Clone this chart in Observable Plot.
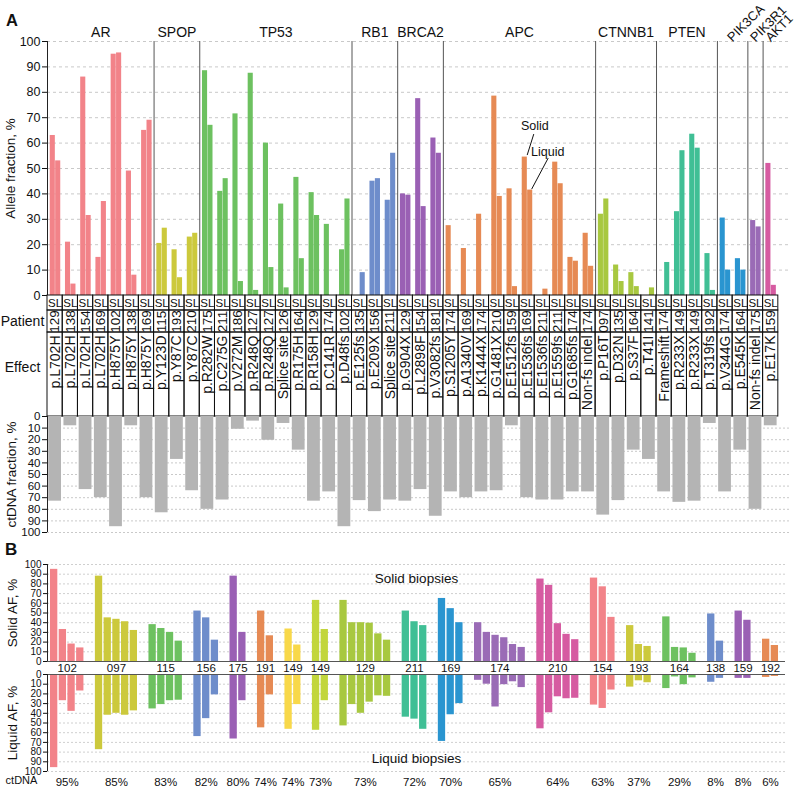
<!DOCTYPE html>
<html><head><meta charset="utf-8">
<script src="https://cdn.jsdelivr.net/npm/d3@7"></script>
<script src="https://cdn.jsdelivr.net/npm/@observablehq/plot@0.6"></script>
<style>
body{margin:0;background:#fff;font-family:"Liberation Sans",Arial,sans-serif;}
#wrap{position:relative;width:800px;height:788px;overflow:hidden;background:#fff;}
.plab{position:absolute;font-weight:bold;line-height:16px;color:#111;}
</style></head><body><div id="wrap"></div>
<script>
// ---------------- DATA (panel A) ----------------
const geneNames  = ["AR","SPOP","TP53","RB1","BRCA2","APC","CTNNB1","PTEN","PIK3CA","PIK3R1","AKT1"];
const geneCounts = [7,3,10,3,3,10,4,4,2,1,1];
const geneColors = ["#F28389","#CCC93C","#6DC160","#6E8DCB","#9A60B4","#E68A54","#A8C840","#40BF95","#2A95D0","#9A6BB6","#D65BA1"];
const rotatedGenes = ["PIK3CA","PIK3R1","AKT1"];
const patientIds = ["129","138","154","169","102","138","169","115","193","210","175","211","186","127","127","126","164","129","174","102","135","156","211","129","154","181","174","169","174","210","159","169","211","211","174","174","097","135","164","141","174","149","149","192","174","164","175","159"];
const effects = ["p.L702H","p.L702H","p.L702H","p.L702H","p.H875Y","p.H875Y","p.H875Y","p.Y123D","p.Y87C","p.Y87C","p.R282W","p.C275G","p.V272M","p.R248Q","p.R248Q","Splice site","p.R175H","p.R158H","p.C141R","p.D48fs","p.E125fs","p.E209X","Splice site","p.G904X","p.L2898F","p.V3082fs","p.S1205Y","p.A1340V","p.K1444X","p.G1481X","p.E1512fs","p.E1536fs","p.E1536fs","p.E1559fs","p.G1685fs","Non-fs indel","p.P16T","p.D32N","p.S37F","p.T41I","Frameshift","p.R233X","p.R233X","p.T319fs","p.V344G","p.E545K","Non-fs indel","p.E17K"];
const solidAF  = [63,21,86,15,95,49,65, 20.5,18,23, 88.5,41,71.5,87.5,60,36,46.5,40.5,28,18, 0,45,37.5, 40,77.5,62, 27.5,18.5,32,78.5,42,54.5,0,52.5,15,24.5, 32,12,9,0, 0,33,63.5,16.5, 30.5,14.5, 29.5, 52];
const liquidAF = [53,4.5,31.5,37,95.5,8,69, 26.5,7,24.5, 67,46,5.5,2,11,3,14.5,31.5,0,38, 9,46,56, 39.5,35,56, 0,0,0,39,3.5,41.5,2.5,44,13.5,11.5, 38,5.5,3.5,3, 13,57,58,2, 10,10, 27, 4];
const ctDNAfraction = [73,8,63,70,95,8,70, 83,37,64, 80,72,11,4,20.5,6,29,73,65,95, 72.5,82,72, 73,63,86, 65,70,65,64,8,70,72,72,65,65, 85,72.5,29,37, 65,74,73,6, 65,29, 80,8];
const afTicks = d3.range(0,101,10);
const annLabels = ["Solid","Liquid"];
const annCols = [31,31];
const annParts = ["S","L"];

// ---------------- DATA (panel B) ----------------
const bPatients = ["102","097","115","156","175","191","149","149","129","211","169","174","210","154","193","164","138","159","192"];
const bCtDNA = ["95%","85%","83%","82%","80%","74%","74%","73%","73%","72%","70%","65%","64%","63%","37%","29%","8%","8%","6%"];
const bColors = ["#F28389","#CCC93C","#6DC160","#6E8DCB","#9A60B4","#E68A54","#F8D84A","#C2D63C","#A8C840","#40BF95","#2A95D0","#9A6BB6","#D65BA1","#F28389","#CCC93C","#6DC160","#6E8DCB","#9A60B4","#E68A54"];
const bSolid = [[95,33,18,14],[88,45,43.5,41,32],[38,34,30,21],[52,45,22],[88,30],[52,26.5],[33.5,17],[63,33],[63,40,40,39.5,28.5,22],[52,41,37],[65,54.5,40],[40,30,27,24.5,17.5,14.5],[85,78.5,39,28,22.5],[86,77,45.5],[37,17.5,15.5],[46,14.5,14,8.5],[49,21],[52,42.5],[23,16.5]];
const bLiquid = [[96,27,38,17],[77.5,42,40,42,37.5],[35.5,31,27,26.5],[64,45.5,21],[66.5,27],[55,21],[56.5,31],[57.5,27],[53,31,40,28.5,22,22.5],[44,46,56.5],[69,41.5,30],[6,10,33.5,10.5,7.5,13.5],[56,39.5,23,25,24.5],[31.5,35,16],[13,6.5,8.5],[14.5,2.5,10.5,3.5],[8,4],[4,4],[3,2]];

// ---------------- LAYOUT / STYLE ----------------
const FONT = "Liberation Sans, Arial, Helvetica, sans-serif";
const W = 800;
const A = {ml:47, mr:10, xmax:48.8};
const svgStyle = {fontFamily: FONT, background:"transparent", overflow:"visible", color:"#111", position:"absolute", left:"0px"};
const pxX = (W - A.ml - A.mr) / A.xmax;
const pxY = 254 / 100;
const annStyle = [{tx:10, ty:-31, l1:[2.4,-2], l2:[9,-23]}, {tx:17.5, ty:-38, l1:[1.5,-1], l2:[18,-32]}];

const wrap = document.getElementById("wrap");
function place(el, top){ el.style.position="absolute"; el.style.top = top+"px"; el.style.left="0px"; wrap.appendChild(el); }
function label(txt, left, top, size){ const d=document.createElement("div"); d.className="plab"; d.textContent=txt; d.style.left=left+"px"; d.style.top=top+"px"; d.style.fontSize=size+"px"; wrap.appendChild(d); }
function title(txt, dx){ return Plot.text([txt], {frameAnchor:"left", textAnchor:"middle", rotate:-90, dx, fontSize:13.5, text:d=>d}); }

// ---------------- build rows ----------------
const geneOf = [];
geneCounts.forEach((c,g)=>{ for(let k=0;k<c;k++) geneOf.push(g); });
const cols = patientIds.map((p,i)=>({i, patient:p, effect:effects[i], color:geneColors[geneOf[i]], solid:solidAF[i], liquid:liquidAF[i], ct:ctDNAfraction[i]}));
const afBars = cols.flatMap(d=>[{i:d.i, part:"S", v:d.solid, color:d.color},{i:d.i, part:"L", v:d.liquid, color:d.color}]).filter(d=>d.v>0);
const barX1 = d => d.i + (d.part==="S" ? 0.18 : 0.535);
const barX2 = d => d.i + (d.part==="S" ? 0.515 : 0.87);
const bounds = d3.cumsum(geneCounts).slice(0,-1);
const geneLabels = geneNames.map((g,k)=>{ const end=d3.sum(geneCounts.slice(0,k+1)); const start=end-geneCounts[k]; return {name:g, cx:(start+end)/2}; });
const ann = annLabels.map((lab,k)=>{
  const c = cols[annCols[k]]; const part = annParts[k];
  const cx = (barX1({i:c.i,part}) + barX2({i:c.i,part}))/2;
  const v = part==="S" ? c.solid : c.liquid;
  const s = annStyle[k];
  return {lab, tx: cx + s.tx/pxX, ty: v - s.ty/pxY, x1: cx + s.l1[0]/pxX, y1: v - s.l1[1]/pxY, x2: cx + s.l2[0]/pxX, y2: v - s.l2[1]/pxY};
});

// ---------------- Panel A: allele fraction ----------------
place(Plot.plot({
  width:W, height:300, marginLeft:A.ml, marginRight:A.mr, marginTop:41, marginBottom:5,
  style: svgStyle,
  x:{domain:[0,A.xmax], axis:null},
  y:{domain:[0,100], label:null},
  color:{type:"identity"},
  marks:[
    Plot.ruleY(afTicks.filter(t=>t>0), {stroke:"#c9c9c9", strokeDasharray:"3,3"}),
    Plot.rect(afBars, {x1:barX1, x2:barX2, y1:0, y2:"v", fill:"color"}),
    Plot.ruleX(bounds, {y1:0, y2:100, stroke:"#555"}),
    Plot.ruleX([0], {y1:0, y2:100, stroke:"#222"}),
    Plot.axisY(afTicks, {tickSize:5, tickPadding:2, fontSize:12.5, label:null}),
    title("Allele fraction, %", -37),
    Plot.text(geneLabels.filter(d=>!rotatedGenes.includes(d.name)), {x:"cx", y:100, text:"name", dy:-9, fontSize:14}),
    Plot.text(geneLabels.filter(d=>rotatedGenes.includes(d.name)), {x:"cx", y:100, text:"name", rotate:-45, textAnchor:"start", dx:-3, dy:-2, fontSize:13}),
    Plot.link(ann, {x1:"x1", y1:"y1", x2:"x2", y2:"y2", stroke:"#111", strokeWidth:1}),
    Plot.text(ann, {x:"tx", y:"ty", text:"lab", fontSize:12.5})
  ]
}), 0);

// ---------------- Panel A: table rows ----------------
function tableRow(top, h, textMark, rowLabel, labelDy){
  const marks = [
    Plot.rect(cols, {x1:"i", x2:d=>d.i+1, y1:0, y2:1, stroke:"#111", fill:"none"}),
    textMark
  ];
  if (rowLabel) marks.push(Plot.text([rowLabel], {frameAnchor:"left", textAnchor:"middle", dx:-25, dy:labelDy, fontSize:14, text:d=>d}));
  place(Plot.plot({
    width:W, height:h, marginLeft:A.ml, marginRight:A.mr, marginTop:0, marginBottom:0,
    style: svgStyle, x:{domain:[0,A.xmax], axis:null}, y:{domain:[0,1], axis:null}, marks
  }), top);
}
tableRow(295, 15, Plot.text(cols, {x:d=>d.i+0.5, y:0.5, text:()=>"SL", fontSize:11.5}), null, 0);
tableRow(310, 22, Plot.text(cols, {x:d=>d.i+0.5, y:0.5, text:"patient", rotate:-90, fontSize:13.5}), "Patient", 0);
tableRow(332, 84, Plot.text(cols, {x:d=>d.i+0.5, y:1, text:"effect", rotate:-90, textAnchor:"end", dy:3, fontSize:14}), "Effect", -7);

// ---------------- Panel A: ctDNA fraction ----------------
place(Plot.plot({
  width:W, height:131, marginLeft:A.ml, marginRight:A.mr, marginTop:6, marginBottom:9,
  style: svgStyle,
  x:{domain:[0,A.xmax], axis:null},
  y:{domain:[0,100], reverse:true, label:null},
  marks:[
    Plot.ruleY(afTicks.filter(t=>t>0), {stroke:"#c9c9c9", strokeDasharray:"2,2"}),
    Plot.rect(cols, {x1:d=>d.i+0.08, x2:d=>d.i+0.92, y1:0, y2:"ct", fill:"#b4b4b4"}),
    Plot.ruleX([0], {y1:0, y2:100, stroke:"#222"}),
    Plot.axisY(afTicks, {tickSize:5, tickPadding:2, fontSize:11.5, label:null}),
    title("ctDNA fraction, %", -36)
  ]
}), 410);

// ---------------- Panel B ----------------
const GAP = 1.156, BW = 0.84;
const bBars = [], bGroups = [];
let n = 0;
bPatients.forEach((p,g)=>{
  const s = bSolid[g], l = bLiquid[g], start = n + g*GAP;
  s.forEach((v,k)=> bBars.push({p:start+k, solid:v, liquid:l[k], color:bColors[g]}));
  bGroups.push({id:p, cx:start + (s.length-1+BW)/2, ct:bCtDNA[g]});
  n += s.length;
});
const bX = {domain:[-0.345, 84.45], axis:null};

place(Plot.plot({
  width:W, height:120, marginLeft:47, marginRight:15, marginTop:9, marginBottom:14,
  style: svgStyle, x:bX, y:{domain:[0,100], label:null}, color:{type:"identity"},
  marks:[
    Plot.ruleY(afTicks.filter(t=>t>0), {stroke:"#cfcfcf", strokeDasharray:"2,2"}),
    Plot.rect(bBars, {x1:"p", x2:d=>d.p+BW, y1:0, y2:"solid", fill:"color"}),
    Plot.ruleY([0], {stroke:"#555"}),
    Plot.ruleX([-0.345], {y1:0, y2:100, stroke:"#222"}),
    Plot.axisY(afTicks, {tickSize:4, tickPadding:2, fontSize:10, label:null}),
    Plot.text(bGroups, {x:"cx", y:0, text:"id", dy:7, fontSize:11.5}),
    Plot.text(["Solid biopsies"], {frameAnchor:"top", dy:9, fontSize:13.5, text:d=>d}),
    title("Solid AF, %", -35)
  ]
}), 555);

place(Plot.plot({
  width:W, height:123, marginLeft:47, marginRight:15, marginTop:9, marginBottom:17,
  style: svgStyle, x:bX, y:{domain:[0,100], reverse:true, label:null}, color:{type:"identity"},
  marks:[
    Plot.ruleY(afTicks.filter(t=>t>0), {stroke:"#cfcfcf", strokeDasharray:"2,2"}),
    Plot.rect(bBars, {x1:"p", x2:d=>d.p+BW, y1:0, y2:"liquid", fill:"color"}),
    Plot.ruleY([0], {stroke:"#555"}),
    Plot.ruleX([-0.345], {y1:0, y2:100, stroke:"#222"}),
    Plot.axisY(afTicks, {tickSize:4, tickPadding:2, fontSize:10, label:null}),
    Plot.text(bGroups, {x:"cx", y:100, text:"ct", dy:11, fontSize:11.5}),
    Plot.text(["ctDNA"], {frameAnchor:"bottom-left", textAnchor:"middle", dx:-26, dy:12.5, fontSize:11, text:d=>d}),
    Plot.text(["Liquid biopsies"], {frameAnchor:"bottom", dy:-9, fontSize:13.5, text:d=>d}),
    title("Liquid AF, %", -35)
  ]
}), 665);

label("A", 6, 12, 16.5);
label("B", 5, 542, 17);
</script></body></html>
